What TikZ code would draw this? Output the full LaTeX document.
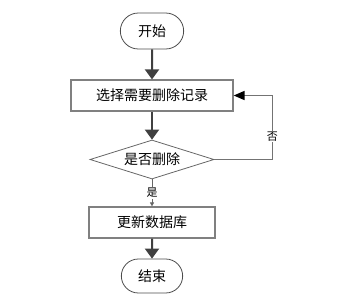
\documentclass[tikz,border=0pt]{standalone}
\usepackage{fontspec}
\newfontfamily\cjk{Noto Sans CJK SC}
\usetikzlibrary{
  shapes.geometric, shapes.misc, arrows.meta, positioning, shadows
}
\tikzset{
  term/.style={rounded rectangle, draw=black!70, line width=.8pt,
    minimum width=70pt, minimum height=36pt,
    align=center, font=\cjk\fontsize{14}{16}\selectfont},
  proc/.style={rectangle, draw=black!50, line width=1.2pt, fill=white,
    drop shadow={shadow xshift=1pt, shadow yshift=-1pt, fill=black!25},
    minimum height=31pt,
    align=center, font=\cjk\fontsize{14}{16}\selectfont},
  dec/.style={diamond, aspect=3, draw=black!60, line width=.8pt,
    minimum width=124pt, minimum height=39pt, inner sep=0pt,
    align=center, font=\cjk\fontsize{14}{16}\selectfont},
  arr/.style={-{Triangle[length=10pt, width=14pt]}, draw=black!75,
    line width=2pt},
  fb/.style={-{Triangle[length=11pt, width=9pt, color=black]}, draw=black!55,
    line width=1.4pt},
  thin/.style={-{Triangle[length=4pt, width=4pt]}, draw=black!60,
    line width=.7pt},
  flbl/.style={font=\cjk\fontsize{11}{12}\selectfont, fill=white,
    inner sep=1pt},
}

\begin{document}
\begin{tikzpicture}[x=1pt, y=-1pt, node distance=28pt]
    \useasboundingbox (0,0) rectangle (355,302);
    \node[term] (kaishi)  at (152,31)            {开始};
    \node[proc, minimum width=162pt] (xuanze)  [below=30pt of kaishi]  {选择需要删除记录};
    \node[dec]  (shifou)  [below=28pt of xuanze]  {是否删除};
    \node[proc, minimum width=126pt] (gengxin) [below=27pt of shifou]  {更新数据库};
    \node[term, minimum width=68pt, minimum height=34pt] (jieshu)
                          [below=20pt of gengxin] {结束};

    \draw[arr]  (kaishi)  -- (xuanze);
    \draw[arr]  (xuanze)  -- (shifou);
    \draw[thin] (shifou)  -- node[flbl] {是} (gengxin);
    \draw[arr]  (gengxin) -- (jieshu);
    \draw[fb]   (shifou.east) -- ++(58,0) |- node[flbl, pos=.18] {否}
                (xuanze.east);
  \end{tikzpicture}
\end{document}
